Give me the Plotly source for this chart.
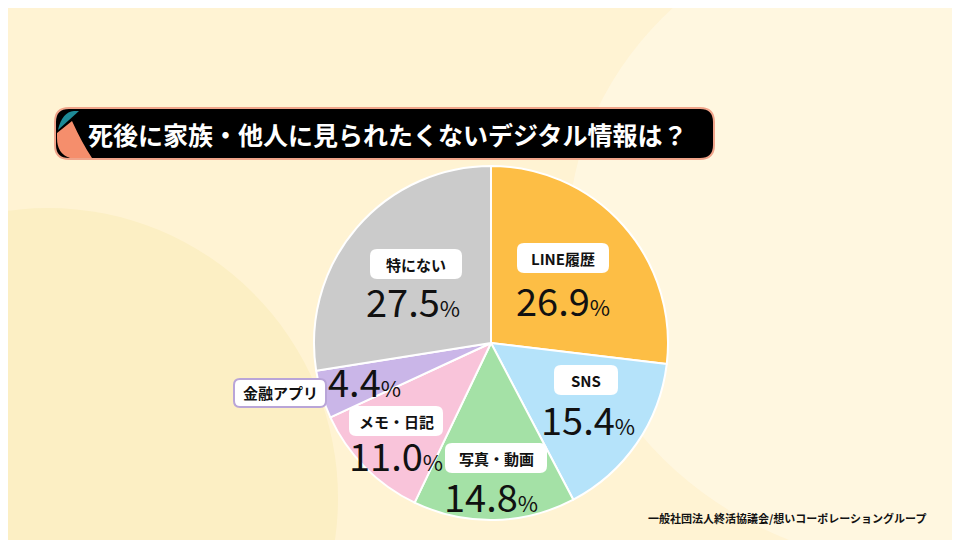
import plotly.graph_objects as go

labels = ["LINE履歴", "SNS", "写真・動画", "メモ・日記", "金融アプリ", "特にない"]
values = [26.9, 15.4, 14.8, 11.0, 4.4, 27.5]
colors = ["#FDBE45", "#B5E3FA", "#A4E1A6", "#F9C4DA", "#CAB6E8", "#CBCBCB"]
title = "死後に家族・他人に見られたくないデジタル情報は？"
source = "一般社団法人終活協議会/想いコーポレーショングループ"

W, H = 960, 540
def px(x): return x / W
def py(y): return 1 - y / H

def rrect(x0, y0, x1, y1, r):
    return (f"M {px(x0+r)} {py(y0)} L {px(x1-r)} {py(y0)} Q {px(x1)} {py(y0)} {px(x1)} {py(y0+r)} "
            f"L {px(x1)} {py(y1-r)} Q {px(x1)} {py(y1)} {px(x1-r)} {py(y1)} L {px(x0+r)} {py(y1)} "
            f"Q {px(x0)} {py(y1)} {px(x0)} {py(y1-r)} L {px(x0)} {py(y0+r)} Q {px(x0)} {py(y0)} {px(x0+r)} {py(y0)} Z")

fig = go.Figure(go.Pie(
    labels=labels, values=values, sort=False, direction="clockwise", rotation=0,
    marker=dict(colors=colors, line=dict(color="white", width=2)),
    textinfo="none", hoverinfo="label+value", showlegend=False,
    domain=dict(x=[px(306), px(660)], y=[py(513), py(157)]),
))

shapes = [
    dict(type="circle", xref="paper", yref="paper", x0=px(-250), x1=px(330), y0=py(780), y1=py(200),
         fillcolor="#FCEFC4", line_width=0, layer="below"),
    dict(type="circle", xref="paper", yref="paper", x0=px(560), x1=px(1300), y0=py(560), y1=py(-100),
         fillcolor="#FFF8E4", line_width=0, layer="below", opacity=0.8),
    dict(type="path", xref="paper", yref="paper", path=rrect(47, 100, 706, 151, 14),
         fillcolor="black", line=dict(color="#F0A48A", width=2)),
    dict(type="path", xref="paper", yref="paper",
         path=f"M {px(50)} {py(122)} Q {px(54)} {py(104)} {px(66)} {py(103)} L {px(71)} {py(103)} Z",
         fillcolor="#1E8A96", line_width=0),
    dict(type="path", xref="paper", yref="paper",
         path=f"M {px(49)} {py(125)} L {px(64)} {py(113)} Q {px(74)} {py(135)} {px(84)} {py(150)} L {px(62)} {py(150)} Q {px(49)} {py(146)} {px(49)} {py(130)} Z",
         fillcolor="#F58E6C", line_width=0),
]

def ann(x, y, text, size, color="#111", xanchor="center"):
    return dict(x=px(x), y=py(y), xref="paper", yref="paper", text=text, showarrow=False,
                xanchor=xanchor, yanchor="middle",
                font=dict(size=size, color=color, family="Noto Sans CJK JP"))

annotations = [ann(380, 126, f"<b>{title}</b>", 25, "white")]

boxes = [  # label, cx, cy, w, pct cx, pct cy, border
    ("LINE履歴", 555, 250, 90, 555, 291, "white"),
    ("SNS", 578, 372, 62, 580, 410, "white"),
    ("写真・動画", 488, 450, 100, 483, 487, "white"),
    ("メモ・日記", 388, 413, 92, 388, 446, "white"),
    ("金融アプリ", 272, 385, 92, 356, 372, "#B9A5D8"),
    ("特にない", 408, 256, 90, 405, 292, "white"),
]
for (lab, cx, cy, w, pcx, pcy, bc), v in zip(boxes, values):
    shapes.append(dict(type="path", xref="paper", yref="paper",
                       path=rrect(cx - w/2, cy - 14, cx + w/2, cy + 14, 6),
                       fillcolor="white", line=dict(color=bc, width=2)))
    annotations.append(ann(cx, cy, f"<b>{lab}</b>", 15))
    annotations.append(ann(pcx, pcy, f"{v:.1f}<span style='font-size:22px'>%</span>", 38))

annotations.append(ann(920, 510, f"<b>{source}</b>", 11, xanchor="right"))

fig.update_layout(width=W, height=H, margin=dict(l=0, r=0, t=0, b=0),
                  paper_bgcolor="#FFF3D3", plot_bgcolor="#FFF3D3",
                  shapes=shapes, annotations=annotations)
fig.write_html("out.html")
